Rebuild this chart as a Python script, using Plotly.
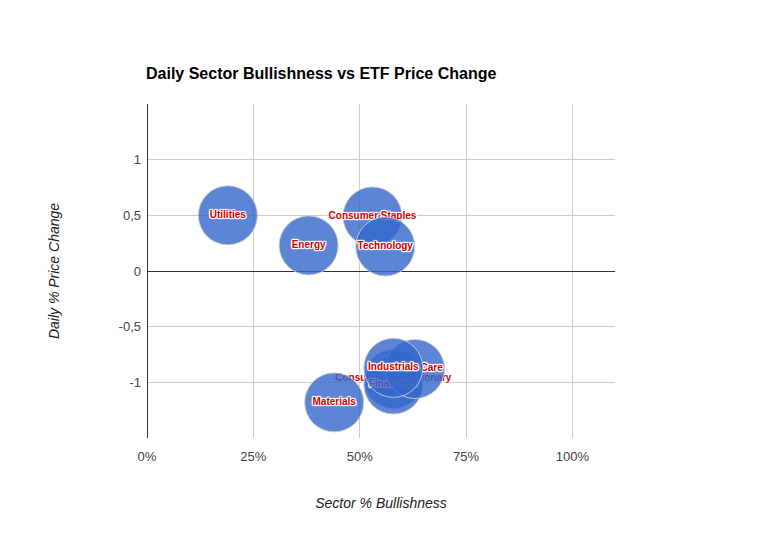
import plotly.graph_objects as go

# Data (alphabetical order = drawing order)
sectors = ["Consumer Discretionary", "Consumer Staples", "Energy", "Financials",
           "Health Care", "Industrials", "Materials", "Technology", "Utilities"]
bullishness = [0.579, 0.53, 0.38, 0.579, 0.63, 0.579, 0.44, 0.56, 0.19]
price_change = [-0.97, 0.49, 0.23, -1.02, -0.88, -0.87, -1.18, 0.22, 0.50]

x_tickvals = [0, 0.25, 0.5, 0.75, 1.0]
x_ticktext = ["0%", "25%", "50%", "75%", "100%"]
y_tickvals = [-1, -0.5, 0, 0.5, 1]
y_ticktext = ["-1", "-0,5", "0", "0,5", "1"]

FONT = "Arial, Liberation Sans, sans-serif"
shadow = ("1px 0px 1px white, -1px 0px 1px white, 0px 1px 1px white, 0px -1px 1px white,"
          " 1px 1px 1px white, -1px -1px 1px white, 1px -1px 1px white, -1px 1px 1px white")

fig = go.Figure()
for name, xv, yv in zip(sectors, bullishness, price_change):
    fig.add_trace(go.Scatter(
        x=[xv], y=[yv], mode="markers+text", text=[name], name=name,
        textposition="middle center",
        marker=dict(size=59, color="rgba(51,102,204,0.8)",
                    line=dict(color="rgba(204,204,204,0.9)", width=1)),
        textfont=dict(family=FONT, size=10, color="#d40000", weight="bold", shadow=shadow),
        cliponaxis=False, showlegend=False,
    ))

fig.update_layout(
    width=761, height=544,
    margin=dict(l=147, r=146, t=104, b=106),
    paper_bgcolor="white", plot_bgcolor="white",
    font=dict(family=FONT),
    title=dict(text="<b>Daily Sector Bullishness vs ETF Price Change</b>",
               font=dict(size=16, color="black", family=FONT),
               x=146/761, xref="container", xanchor="left",
               y=1-73/544, yref="container", yanchor="middle"),
    xaxis=dict(range=[0, 1.1], tickvals=x_tickvals, ticktext=x_ticktext,
               showgrid=True, gridcolor="#cccccc", gridwidth=1,
               zeroline=True, zerolinecolor="#333333", zerolinewidth=1,
               showline=False, ticks="", ticklabelstandoff=9,
               tickfont=dict(size=13, color="#444444"),
               title=dict(text="<i>Sector % Bullishness</i>",
                          font=dict(size=14, color="#222222"), standoff=35)),
    yaxis=dict(range=[-1.5, 1.5], tickvals=y_tickvals, ticktext=y_ticktext,
               showgrid=True, gridcolor="#cccccc", gridwidth=1,
               zeroline=True, zerolinecolor="#333333", zerolinewidth=1,
               showline=False, ticks="", ticklabelstandoff=5,
               tickfont=dict(size=13, color="#444444"),
               title=dict(text="<i>Daily % Price Change</i>",
                          font=dict(size=14, color="#222222"), standoff=55)),
)

fig.write_html("out.html")
